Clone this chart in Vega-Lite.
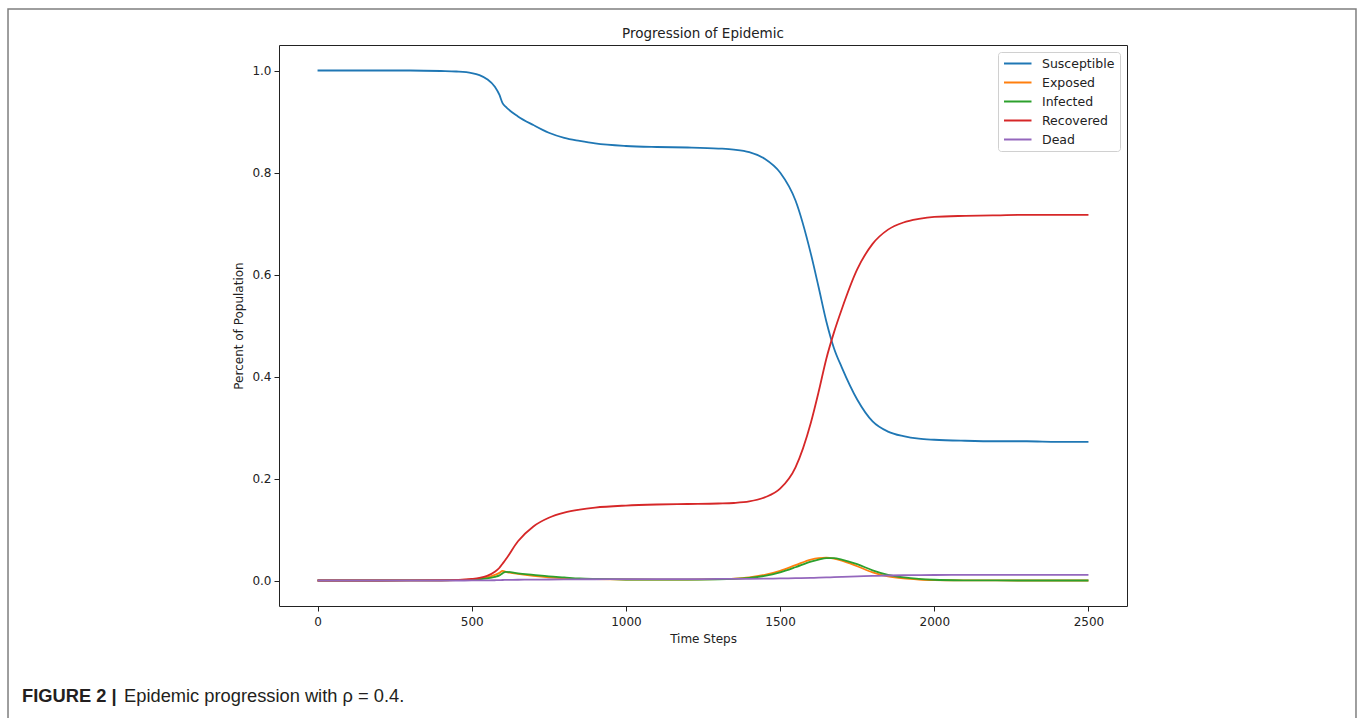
{
  "$schema": "https://vega.github.io/schema/vega-lite/v6.json",
  "autosize": {"type": "none"},
  "width": 848,
  "height": 561,
  "padding": {"left": 279, "top": 45, "right": 233, "bottom": 112},
  "background": "white",
  "config": {
    "view": {"stroke": "#222222", "strokeWidth": 1},
    "axis": {"domain": false, "grid": false, "ticks": true, "tickColor": "#222222", "tickSize": 5, "tickWidth": 1,
      "labelFont": "DejaVu Sans", "labelFontSize": 12, "labelColor": "#222222", "labelPadding": 4,
      "titleFont": "DejaVu Sans", "titleFontSize": 12, "titleFontWeight": "normal", "titleColor": "#222222"},
    "legend": {"orient": "top-right", "offset": 7, "symbolType": "M-1,0H4", "symbolSize": 121, "symbolStrokeWidth": 2,
      "labelFont": "DejaVu Sans", "labelFontSize": 12.5, "labelColor": "#222222", "strokeColor": "#d0d0d0", "fillColor": "white",
      "padding": 5, "rowPadding": 6, "labelOffset": 26, "cornerRadius": 3}
  },
  "layer": [
    {
      "data": {"values": [{"k": 1}]},
      "mark": {"type": "rect", "fill": null, "fillOpacity": 0, "stroke": "#7f7f7f", "strokeWidth": 1.5, "clip": false},
      "encoding": {
        "x": {"datum": -1003.8, "type": "quantitative", "scale": {"domain": [-125, 2625], "nice": false, "zero": false}},
        "x2": {"datum": 3367.6},
        "y": {"datum": 1.1206, "type": "quantitative", "scale": {"domain": [-0.05, 1.05], "nice": false, "zero": false}},
        "y2": {"datum": -0.3}
      }
    },
    {
      "data": {"values": [{"k": 1}]},
      "mark": {"type": "text", "text": "Progression of Epidemic", "font": "DejaVu Sans", "fontSize": 13.5, "fontWeight": "normal", "color": "#222222", "align": "center", "baseline": "alphabetic", "clip": false},
      "encoding": {"x": {"datum": 1250, "type": "quantitative"}, "y": {"datum": 1.0637, "type": "quantitative"}}
    },
    {
      "data": {"values": [
        {"t": 0, "Susceptible": 1.0, "Exposed": 0, "Infected": 0, "Recovered": 0, "Dead": 0},
        {"t": 100, "Susceptible": 1.0, "Exposed": 0, "Infected": 0, "Recovered": 0, "Dead": 0},
        {"t": 200, "Susceptible": 1.0, "Exposed": 0, "Infected": 0, "Recovered": 0, "Dead": 0},
        {"t": 300, "Susceptible": 1.0, "Exposed": 0.0001, "Infected": 0.0001, "Recovered": 0.0001, "Dead": 0},
        {"t": 400, "Susceptible": 0.999, "Exposed": 0.0004, "Infected": 0.0003, "Recovered": 0.0005, "Dead": 0},
        {"t": 450, "Susceptible": 0.998, "Exposed": 0.001, "Infected": 0.0007, "Recovered": 0.0012, "Dead": 0},
        {"t": 500, "Susceptible": 0.995, "Exposed": 0.002, "Infected": 0.0015, "Recovered": 0.003, "Dead": 0.0001},
        {"t": 525, "Susceptible": 0.991, "Exposed": 0.0035, "Infected": 0.0025, "Recovered": 0.005, "Dead": 0.0002},
        {"t": 550, "Susceptible": 0.983, "Exposed": 0.006, "Infected": 0.004, "Recovered": 0.009, "Dead": 0.0003},
        {"t": 575, "Susceptible": 0.968, "Exposed": 0.011, "Infected": 0.007, "Recovered": 0.017, "Dead": 0.0005},
        {"t": 590, "Susceptible": 0.952, "Exposed": 0.015, "Infected": 0.010, "Recovered": 0.025, "Dead": 0.0007},
        {"t": 600, "Susceptible": 0.936, "Exposed": 0.019, "Infected": 0.014, "Recovered": 0.033, "Dead": 0.001},
        {"t": 610, "Susceptible": 0.929, "Exposed": 0.017, "Infected": 0.017, "Recovered": 0.041, "Dead": 0.0011},
        {"t": 650, "Susceptible": 0.910, "Exposed": 0.013, "Infected": 0.014, "Recovered": 0.077, "Dead": 0.0015},
        {"t": 700, "Susceptible": 0.893, "Exposed": 0.009, "Infected": 0.011, "Recovered": 0.106, "Dead": 0.0018},
        {"t": 750, "Susceptible": 0.878, "Exposed": 0.006, "Infected": 0.008, "Recovered": 0.123, "Dead": 0.002},
        {"t": 800, "Susceptible": 0.868, "Exposed": 0.004, "Infected": 0.006, "Recovered": 0.133, "Dead": 0.0022},
        {"t": 850, "Susceptible": 0.862, "Exposed": 0.003, "Infected": 0.004, "Recovered": 0.139, "Dead": 0.0024},
        {"t": 900, "Susceptible": 0.857, "Exposed": 0.0025, "Infected": 0.003, "Recovered": 0.143, "Dead": 0.0025},
        {"t": 1000, "Susceptible": 0.852, "Exposed": 0.002, "Infected": 0.002, "Recovered": 0.147, "Dead": 0.0026},
        {"t": 1100, "Susceptible": 0.850, "Exposed": 0.0018, "Infected": 0.0018, "Recovered": 0.149, "Dead": 0.0027},
        {"t": 1200, "Susceptible": 0.849, "Exposed": 0.0018, "Infected": 0.0018, "Recovered": 0.150, "Dead": 0.0028},
        {"t": 1300, "Susceptible": 0.847, "Exposed": 0.0025, "Infected": 0.0022, "Recovered": 0.151, "Dead": 0.003},
        {"t": 1350, "Susceptible": 0.845, "Exposed": 0.0035, "Infected": 0.003, "Recovered": 0.152, "Dead": 0.0031},
        {"t": 1400, "Susceptible": 0.840, "Exposed": 0.006, "Infected": 0.005, "Recovered": 0.155, "Dead": 0.0033},
        {"t": 1450, "Susceptible": 0.827, "Exposed": 0.011, "Infected": 0.009, "Recovered": 0.163, "Dead": 0.0036},
        {"t": 1500, "Susceptible": 0.800, "Exposed": 0.019, "Infected": 0.016, "Recovered": 0.180, "Dead": 0.004},
        {"t": 1550, "Susceptible": 0.745, "Exposed": 0.030, "Infected": 0.026, "Recovered": 0.222, "Dead": 0.0045},
        {"t": 1600, "Susceptible": 0.640, "Exposed": 0.041, "Infected": 0.037, "Recovered": 0.310, "Dead": 0.005},
        {"t": 1625, "Susceptible": 0.575, "Exposed": 0.044, "Infected": 0.041, "Recovered": 0.370, "Dead": 0.0055},
        {"t": 1650, "Susceptible": 0.508, "Exposed": 0.045, "Infected": 0.044, "Recovered": 0.435, "Dead": 0.006},
        {"t": 1675, "Susceptible": 0.455, "Exposed": 0.043, "Infected": 0.044, "Recovered": 0.487, "Dead": 0.0065},
        {"t": 1700, "Susceptible": 0.418, "Exposed": 0.039, "Infected": 0.041, "Recovered": 0.532, "Dead": 0.007},
        {"t": 1750, "Susceptible": 0.355, "Exposed": 0.028, "Infected": 0.032, "Recovered": 0.610, "Dead": 0.008},
        {"t": 1800, "Susceptible": 0.312, "Exposed": 0.016, "Infected": 0.020, "Recovered": 0.660, "Dead": 0.009},
        {"t": 1850, "Susceptible": 0.292, "Exposed": 0.008, "Infected": 0.011, "Recovered": 0.688, "Dead": 0.0098},
        {"t": 1900, "Susceptible": 0.283, "Exposed": 0.004, "Infected": 0.006, "Recovered": 0.702, "Dead": 0.0103},
        {"t": 1950, "Susceptible": 0.278, "Exposed": 0.002, "Infected": 0.003, "Recovered": 0.709, "Dead": 0.0106},
        {"t": 2000, "Susceptible": 0.276, "Exposed": 0.001, "Infected": 0.0015, "Recovered": 0.713, "Dead": 0.0108},
        {"t": 2100, "Susceptible": 0.274, "Exposed": 0.0003, "Infected": 0.0004, "Recovered": 0.715, "Dead": 0.011},
        {"t": 2200, "Susceptible": 0.273, "Exposed": 0.0001, "Infected": 0.0001, "Recovered": 0.716, "Dead": 0.011},
        {"t": 2300, "Susceptible": 0.273, "Exposed": 0, "Infected": 0, "Recovered": 0.717, "Dead": 0.011},
        {"t": 2400, "Susceptible": 0.272, "Exposed": 0, "Infected": 0, "Recovered": 0.717, "Dead": 0.011},
        {"t": 2500, "Susceptible": 0.272, "Exposed": 0, "Infected": 0, "Recovered": 0.717, "Dead": 0.011}
      ]},
      "transform": [{"fold": ["Susceptible", "Exposed", "Infected", "Recovered", "Dead"], "as": ["series", "v"]}],
      "mark": {"type": "line", "strokeWidth": 1.8, "interpolate": "monotone"},
      "encoding": {
        "x": {"field": "t", "type": "quantitative", "title": "Time Steps",
          "scale": {"domain": [-125, 2625], "nice": false, "zero": false},
          "axis": {"values": [0, 500, 1000, 1500, 2000, 2500], "format": "d", "labelPadding": 5, "titlePadding": 6}},
        "y": {"field": "v", "type": "quantitative", "title": "Percent of Population",
          "scale": {"domain": [-0.05, 1.05], "nice": false, "zero": false},
          "axis": {"values": [0, 0.2, 0.4, 0.6, 0.8, 1.0], "format": ".1f", "labelPadding": 3, "titlePadding": 6}},
        "color": {"field": "series", "type": "nominal", "title": null,
          "scale": {"domain": ["Susceptible", "Exposed", "Infected", "Recovered", "Dead"],
            "range": ["#1f77b4", "#ff7f0e", "#2ca02c", "#d62728", "#9467bd"]}}
      }
    },
    {
      "data": {"values": [{"k": 1}]},
      "mark": {"type": "text", "text": "FIGURE 2 |", "font": "Liberation Sans", "fontSize": 18.3, "fontWeight": "bold", "color": "#231f20", "align": "left", "baseline": "alphabetic", "clip": false},
      "encoding": {"x": {"datum": -958.3, "type": "quantitative"}, "y": {"datum": -0.2382, "type": "quantitative"}}
    },
    {
      "data": {"values": [{"k": 1}]},
      "mark": {"type": "text", "text": "Epidemic progression with ρ = 0.4.", "font": "Liberation Sans", "fontSize": 18.3, "fontWeight": "normal", "color": "#231f20", "align": "left", "baseline": "alphabetic", "clip": false},
      "encoding": {"x": {"datum": -627.5, "type": "quantitative"}, "y": {"datum": -0.2382, "type": "quantitative"}}
    }
  ]
}
